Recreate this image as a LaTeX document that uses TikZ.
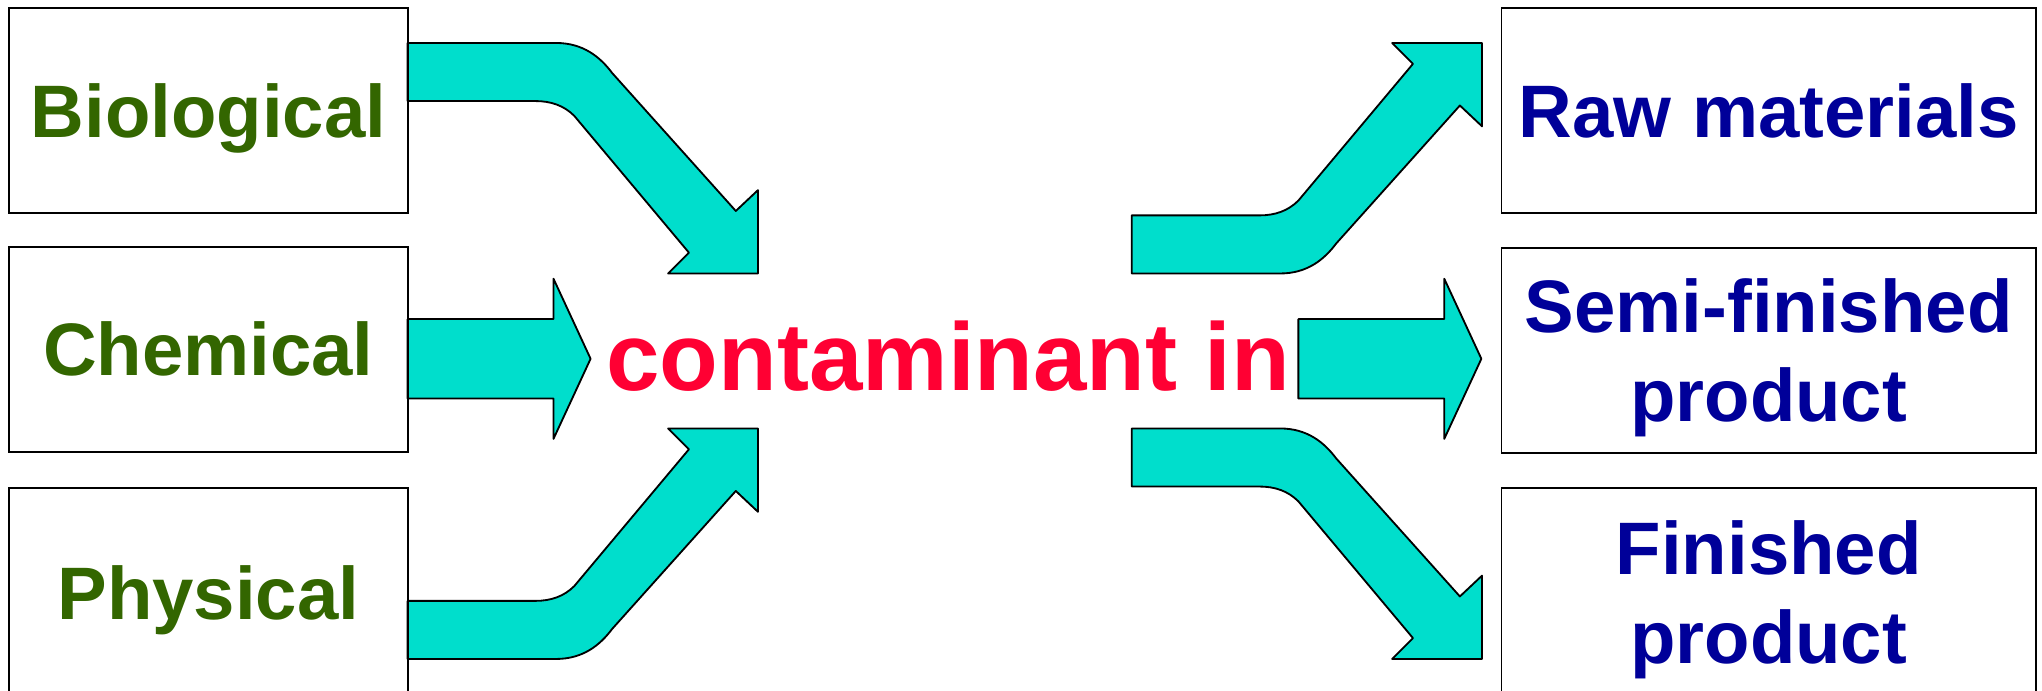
\documentclass[tikz,border=0pt]{standalone}
\usepackage{fontspec}
\setmainfont{Liberation Sans}
\definecolor{srcGreen}{RGB}{51,102,0}
\definecolor{dstBlue}{RGB}{0,0,153}
\definecolor{midRed}{RGB}{255,0,51}
\definecolor{flowCyan}{RGB}{0,222,204}

\begin{document}
\begin{tikzpicture}[x=0.02cm,y=-0.02cm,
    srcbox/.style={draw,line width=0.85pt,minimum width=6.12cm,minimum height=3.148cm,inner sep=0pt,
      font=\fontsize{32.5}{39}\selectfont\bfseries,text=srcGreen,text height=23.3pt,text depth=0pt},
    dstbox/.style={srcbox,minimum width=8.208cm,text=dstBlue,align=center},
    twoline/.style={text height=62.3pt},
    flow/.style={fill=flowCyan,draw=black,line width=0.8pt,line join=round}]
  \useasboundingbox (0,0) rectangle (1568,530);
  % bent arrows, upper and lower on both sides
  \foreach \dx/\dy/\ys in {0/0/1, 0/539/-1, 556/243/-1, 556/296/1}{
    \draw[flow,shift={(\dx,\dy)},yscale=\ys] (313,33) -- (427,33)
      .. controls (448,33) and (461,44) .. (470,56) -- (565,162) -- (582,146)
      -- (582,210) -- (513,210) -- (529,194) -- (441,89)
      .. controls (433,81) and (423,77.6) .. (411,77.6) -- (313,77.6) -- cycle;
  }
  % straight arrows
  \foreach \dx in {0,684}{
    \draw[flow,shift={(\dx,0)}] (313,245) -- (425,245) -- (425,214) -- (453.5,275.5)
      -- (425,337) -- (425,306) -- (313,306) -- cycle;
  }
  \node[srcbox] (bio) at (160,85.1) {Biological};
  \node[srcbox] (chem) at (160,268.1) {Chemical};
  \node[srcbox,minimum height=3.2cm] (phys) at (160,455) {Physical};
  \node[dstbox] (raw) at (1358.1,85.1) {Raw materials};
  \node[dstbox,twoline] (semi) at (1358.1,268.9) {Semi-finished\\product};
  \node[dstbox,twoline,minimum height=3.2cm] (fin) at (1358.1,455) {Finished\\product};
  \node[font=\fontsize{42}{50}\selectfont\bfseries,text=midRed,anchor=base] (cont) at (728,299.5) {contaminant in};
\end{tikzpicture}
\end{document}
